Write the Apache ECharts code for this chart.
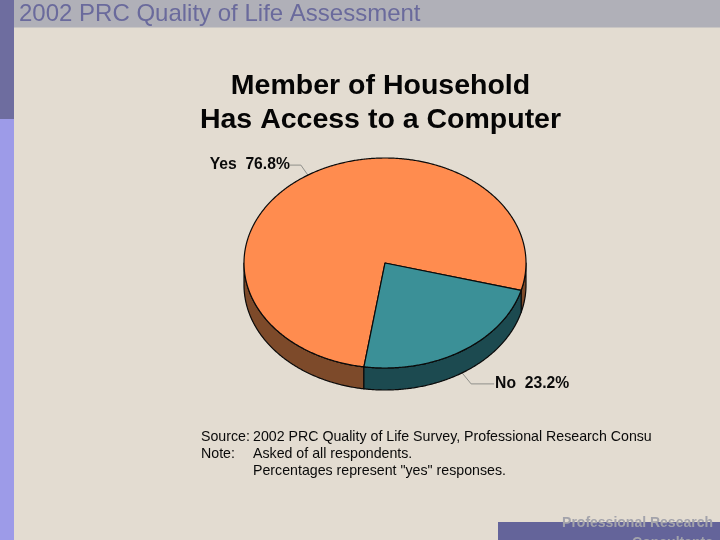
<!DOCTYPE html>
<html><head><meta charset="utf-8">
<style>html,body{margin:0;padding:0;background:#e3dcd1}#c{width:720px;height:540px}</style>
<script src="https://cdn.jsdelivr.net/npm/echarts@6/dist/echarts.min.js"></script>
</head><body><div id="c"></div>
<script>
var categories = ['Yes', 'No'];
var values = [76.8, 23.2];
var startAngleDeg = 98.6;
var topColors = ['#ff8c4f', '#3b9097'];
var wallColors = ['#7d4a2a', '#1c4a50'];
var FONT = '"Liberation Sans", Arial, sans-serif';
var cx = 385, cy = 263, rx = 141, ry = 105, depth = 22;
var total = values[0] + values[1];

function pt(deg, dy) {
  var a = deg * Math.PI / 180;
  return [cx + rx * Math.cos(a), cy + ry * Math.sin(a) + (dy || 0)];
}
function sliceRange(i) {
  var start = startAngleDeg;
  for (var k = 0; k < i; k++) start += values[k] / total * 360;
  return [start, start + values[i] / total * 360];
}
function arc(a, b, dy) {
  var out = [], n = Math.max(2, Math.ceil((b - a) * 2));
  for (var j = 0; j <= n; j++) out.push(pt(a + (b - a) * j / n, dy));
  return out;
}
function renderSlice(params, api) {
  var i = params.dataIndex, r = sliceRange(i), kids = [];
  var edge = { stroke: '#0a0a0a', lineWidth: 1.2, lineJoin: 'round' };
  for (var t = 0; t <= 360; t += 360) {
    var a = Math.max(r[0], t), b = Math.min(r[1], t + 180);
    if (b > a) {
      kids.push({
        type: 'polygon', z2: 1,
        shape: { points: arc(a, b, 0).concat(arc(a, b, depth).reverse()) },
        style: Object.assign({ fill: wallColors[i] }, edge)
      });
    }
  }
  kids.push({
    type: 'polygon', z2: 2,
    shape: { points: [[cx, cy]].concat(arc(r[0], r[1], 0)) },
    style: Object.assign({ fill: topColors[i] }, edge)
  });
  return { type: 'group', children: kids };
}
function leader(i, flip) {
  var r = sliceRange(i), mid = (r[0] + r[1]) / 2;
  var onWall = Math.sin(mid * Math.PI / 180) > 0;
  var p = pt(mid, onWall ? depth : 0);
  return flip
    ? [p, [p[0] + 9, p[1] + 11], [p[0] + 32, p[1] + 11]]
    : [p, [p[0] - 7, p[1] - 10], [p[0] - 18, p[1] - 10]];
}
function sideLabel(i) { return categories[i] + '  ' + values[i].toFixed(1) + '%'; }

var chart = echarts.init(document.getElementById('c'), null, { renderer: 'canvas' });
var txt = function (x, y, s, size, weight, color, align) {
  return { type: 'text', x: x, y: y, z: 20, style: { text: s, fill: color, font: (weight || 'normal') + ' ' + size + 'px ' + FONT, align: align || 'left', verticalAlign: 'middle' } };
};
var yesLine = leader(0, false), noLine = leader(1, true);
chart.setOption({
  animation: false,
  backgroundColor: '#e3dcd1',
  title: {
    text: 'Member of Household\nHas Access to a Computer',
    left: 375.5, top: 64, textAlign: 'center',
    textStyle: { fontFamily: FONT, fontWeight: 'bold', fontSize: 28.5, lineHeight: 34, color: '#050505' }
  },
  graphic: [
    { type: 'rect', z: 1, shape: { x: 0, y: 0, width: 720, height: 27.5 }, style: { fill: '#b0b0b8' } },
    { type: 'rect', z: 2, shape: { x: 0, y: 0, width: 14, height: 119 }, style: { fill: '#6e6d9f' } },
    { type: 'rect', z: 2, shape: { x: 0, y: 119, width: 14, height: 421 }, style: { fill: '#9d9be8' } },
    { type: 'rect', z: 2, shape: { x: 498, y: 522, width: 222, height: 18 }, style: { fill: '#64649a' } },
    txt(19, 14, '2002 PRC Quality of Life Assessment', 24, 'normal', '#6a6a9c'),
    txt(713, 523, 'Professional Research', 14, 'bold', '#a3a3ab', 'right'),
    txt(713, 543, 'Consultants', 14, 'bold', '#a3a3ab', 'right'),
    txt(201, 437, 'Source:', 14.2, 'normal', '#0a0a0a'),
    txt(253, 437, '2002 PRC Quality of Life Survey, Professional Research Consu', 14.2, 'normal', '#0a0a0a'),
    txt(201, 454, 'Note:', 14.2, 'normal', '#0a0a0a'),
    txt(253, 454, 'Asked of all respondents.', 14.2, 'normal', '#0a0a0a'),
    txt(253, 471, 'Percentages represent "yes" responses.', 14.2, 'normal', '#0a0a0a'),
    { type: 'polyline', z: 3, shape: { points: yesLine }, style: { stroke: '#8f8f8a', lineWidth: 1, fill: null } },
    { type: 'polyline', z: 3, shape: { points: noLine }, style: { stroke: '#8f8f8a', lineWidth: 1, fill: null } },
    txt(yesLine[2][0], yesLine[2][1], sideLabel(0), 15.7, 'bold', '#0a0a0a', 'right'),
    txt(noLine[2][0] + 1, noLine[2][1], sideLabel(1), 15.7, 'bold', '#0a0a0a', 'left')
  ],
  series: [{
    type: 'custom',
    coordinateSystem: 'none',
    renderItem: renderSlice,
    z: 5,
    data: categories.map(function (c, i) { return { name: c, value: values[i] }; })
  }]
});
</script></body></html>
